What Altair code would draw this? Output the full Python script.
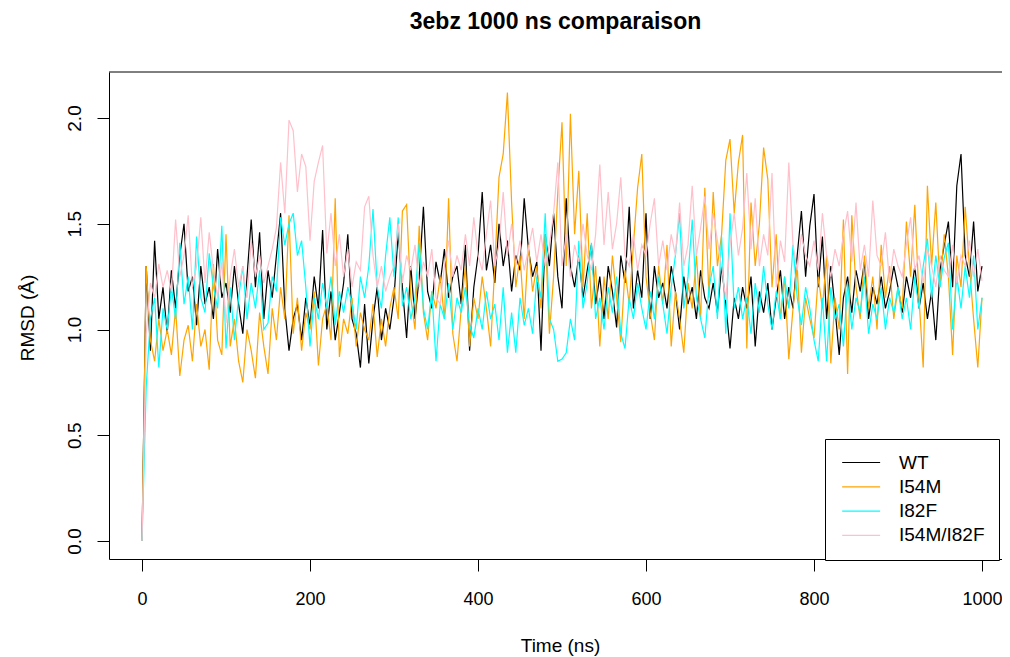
import altair as alt
import pandas as pd

# time grid (ns), one sample every 5 ns
times = list(range(0, 1001, 5))

wt = [
    0.00, 1.30, 0.90, 1.42, 1.05, 1.20, 0.98, 1.28, 1.10, 1.35, 1.50, 1.18, 1.25, 1.02, 1.30, 1.12, 1.20, 1.05, 1.38, 1.15,
    1.22, 1.08, 1.30, 1.12, 0.98, 1.25, 1.52, 1.20, 1.46, 1.05, 1.28, 1.15, 1.35, 1.55, 1.10, 0.90, 1.05, 1.12, 0.95, 1.15,
    1.02, 1.25, 1.10, 1.47, 1.00, 1.18, 0.95, 1.08, 1.22, 1.45, 1.05, 0.98, 0.82, 1.12, 0.84, 1.05, 1.20, 0.95, 1.10, 1.00,
    1.15, 1.46, 1.20, 0.96, 1.30, 1.05, 1.25, 1.58, 1.18, 1.10, 1.32, 1.22, 1.38, 1.15, 1.25, 1.30, 1.12, 1.40, 0.90, 1.20,
    1.35, 1.65, 1.28, 1.40, 1.22, 1.50, 1.30, 1.42, 1.18, 1.35, 1.28, 1.62, 1.38, 1.25, 1.32, 0.90, 1.45, 1.30, 1.55, 1.25,
    1.10, 1.62, 1.30, 1.20, 1.35, 1.15, 1.28, 1.40, 1.12, 1.25, 1.05, 1.30, 1.18, 1.01, 1.35, 1.22, 1.58, 1.10, 1.28, 1.15,
    1.55, 1.05, 1.30, 1.15, 1.22, 1.10, 1.30, 1.18, 1.00, 1.25, 1.12, 1.20, 1.05, 1.28, 1.15, 1.10, 1.22, 1.08, 1.30, 1.12,
    0.91, 1.15, 1.05, 1.20, 1.10, 1.25, 0.92, 1.18, 1.08, 1.22, 1.00, 1.15, 1.28, 1.05, 1.20, 1.10, 1.35, 1.56, 1.25, 1.49,
    1.64, 1.20, 1.44, 1.05, 1.30, 1.10, 0.88, 1.15, 1.25, 1.08, 1.28, 1.18, 1.32, 1.05, 1.20, 1.12, 1.25, 1.10, 1.18, 1.30,
    1.20, 1.08, 1.25, 1.15, 1.30, 1.10, 1.22, 1.05, 1.18, 0.95, 1.28, 1.40, 1.51, 1.20, 1.68, 1.83, 1.35, 1.25, 1.51, 1.18,
    1.30,
]

i54m = [
    0.00, 1.30, 0.95, 0.85, 1.05, 0.90, 1.00, 0.88, 1.10, 0.78, 0.95, 1.02, 0.85, 1.12, 0.92, 1.00, 0.81, 1.31, 0.95, 0.88,
    1.45, 0.92, 1.05, 0.85, 0.75, 1.00, 0.90, 0.77, 1.08, 0.92, 0.79, 1.10, 0.95, 1.20, 1.05, 1.54, 0.98, 1.15, 0.90, 1.08,
    1.00, 1.18, 0.83, 1.05, 1.12, 0.95, 1.62, 0.87, 1.05, 0.98, 1.15, 0.92, 1.08, 1.00, 0.95, 1.12, 0.87, 1.05, 0.92, 1.10,
    1.20, 1.05, 1.56, 1.59, 1.15, 1.00, 1.49, 1.08, 0.95, 1.18, 1.10, 1.25, 1.05, 1.62, 0.98, 0.85, 1.10, 1.30, 0.92, 1.15,
    1.05, 1.25, 1.10, 0.92, 1.30, 1.72, 1.83, 2.12, 1.60, 1.20, 1.35, 1.05, 1.40, 1.18, 1.30, 1.10, 1.45, 0.98, 1.25, 1.65,
    1.98, 1.30, 2.02, 1.45, 1.75, 1.20, 1.55, 1.10, 1.30, 0.92, 1.25, 1.05, 1.35, 1.15, 0.94, 1.28, 1.12, 1.40, 1.67, 1.83,
    1.25, 1.08, 0.95, 1.30, 1.12, 1.40, 0.92, 1.18, 1.05, 0.89, 1.22, 1.10, 1.35, 1.05, 1.67, 1.15, 1.65, 1.30, 1.45, 1.80,
    1.90, 1.55, 1.79, 1.92, 0.91, 1.60, 1.30, 1.50, 1.86, 1.71, 1.20, 1.45, 1.05, 1.25, 0.86, 1.10, 1.30, 0.89, 1.15, 1.05,
    0.96, 1.25, 1.10, 1.35, 0.84, 1.15, 1.00, 1.52, 0.79, 1.54, 1.20, 1.05, 1.35, 1.10, 1.25, 1.00, 1.40, 1.15, 1.30, 1.05,
    1.20, 1.10, 1.51, 1.25, 1.59, 1.15, 0.82, 1.68, 1.30, 1.60, 1.20, 1.45, 1.25, 0.88, 1.35, 1.20, 1.58, 1.30, 1.05, 0.82,
    1.15,
]

i82f = [
    0.00, 0.73, 1.05, 1.15, 0.82, 1.10, 1.00, 1.20, 1.05, 1.41, 1.12, 1.25, 1.00, 1.44, 1.15, 1.08, 1.36, 1.20, 1.10, 1.49,
    0.91, 1.20, 0.95, 1.15, 1.30, 1.05, 1.22, 1.10, 1.28, 1.00, 1.03, 1.25, 1.18, 1.53, 1.40, 1.50, 1.55, 1.35, 1.42, 1.20,
    0.92, 1.15, 1.05, 1.22, 1.10, 1.25, 1.02, 1.18, 1.08, 1.20, 1.12, 1.00, 1.25, 1.15, 1.30, 1.57, 1.20, 1.10, 1.35, 1.53,
    1.25, 1.53, 1.11, 1.20, 1.05, 1.15, 1.41, 1.10, 1.00, 1.18, 0.85, 1.12, 1.05, 1.22, 1.00, 1.15, 1.08, 1.20, 1.02, 0.96,
    1.10, 1.00, 1.18, 1.05, 1.12, 0.95, 1.20, 0.89, 1.08, 0.89, 1.15, 1.02, 1.10, 0.98, 1.25, 1.15, 1.55, 1.05, 1.00, 0.85,
    0.86, 0.89, 1.05, 0.95, 1.42, 1.10, 1.22, 1.41, 1.05, 1.15, 1.00, 1.20, 1.08, 1.25, 0.98, 0.91, 1.15, 1.05, 1.22, 1.10,
    1.00, 1.18, 1.05, 1.25, 1.12, 0.98, 1.20, 1.35, 1.55, 1.10, 1.25, 1.52, 1.15, 1.05, 0.96, 1.20, 1.30, 1.05, 1.44, 0.98,
    1.55, 1.10, 1.20, 1.05, 1.15, 0.98, 1.22, 1.08, 1.30, 1.12, 1.00, 1.18, 1.05, 1.25, 1.10, 1.40, 1.15, 1.02, 1.20, 1.10,
    0.95, 0.85, 1.15, 0.85, 1.20, 1.05, 1.12, 0.92, 1.22, 1.00, 1.15, 1.08, 1.25, 0.98, 1.12, 1.05, 1.20, 1.00, 1.15, 1.08,
    1.20, 1.05, 1.15, 1.00, 1.25, 1.10, 1.30, 1.43, 1.15, 1.35, 1.20, 1.34, 1.41, 1.00, 1.25, 1.10, 1.30, 1.15, 1.35, 1.00,
    1.15,
]

i54m_i82f = [
    0.00, 0.98, 1.22, 1.15, 1.31, 1.20, 1.28, 1.18, 1.52, 1.25, 1.35, 1.54, 1.20, 1.30, 1.53, 1.22, 1.46, 1.28, 1.15, 1.32,
    1.03, 1.25, 1.38, 1.20, 1.30, 1.15, 1.42, 1.25, 1.35, 1.22, 1.30, 1.38, 1.48, 1.79, 1.55, 1.99, 1.94, 1.65, 1.83, 1.77,
    1.42, 1.70, 1.79, 1.87, 1.36, 1.55, 1.30, 1.45, 1.25, 1.38, 1.20, 1.32, 1.28, 1.58, 1.63, 1.35, 1.20, 1.30, 1.18, 1.25,
    1.30, 1.50, 1.22, 1.35, 1.28, 1.40, 1.20, 1.32, 1.25, 1.38, 1.15, 1.12, 1.30, 1.42, 1.25, 1.35, 1.28, 1.45, 1.30, 1.53,
    1.35, 1.28, 1.45, 1.61, 1.30, 1.40, 1.65, 1.35, 1.50, 1.30, 1.42, 1.28, 1.38, 1.48, 1.32, 1.45, 1.30, 1.40, 1.55, 1.79,
    1.30, 1.45, 1.25, 1.40, 1.32, 1.50, 1.35, 1.28, 1.45, 1.78, 1.40, 1.65, 1.38, 1.50, 1.72, 1.35, 1.30, 1.45, 1.28, 1.40,
    1.35, 1.50, 1.62, 1.30, 1.42, 1.28, 1.45, 1.35, 1.60, 1.30, 1.40, 1.68, 1.35, 1.48, 1.63, 1.38, 1.55, 1.42, 1.30, 1.14,
    1.40, 1.55, 1.35, 1.48, 1.74, 1.38, 1.62, 1.30, 1.45, 1.35, 1.74, 1.20, 1.42, 1.32, 1.79, 1.40, 1.28, 1.45, 1.35, 1.30,
    1.42, 1.28, 1.55, 1.35, 1.25, 1.38, 1.30, 1.45, 1.56, 1.32, 1.60, 1.28, 1.40, 1.25, 1.61, 1.35, 1.30, 1.46, 1.22, 1.38,
    1.30, 1.25, 1.40, 1.53, 1.28, 1.35, 1.22, 1.38, 1.30, 1.20, 1.35, 1.28, 1.25, 1.40, 1.22, 1.35, 1.30, 1.42, 1.25, 1.38,
    1.23,
]

series_names = ["WT", "I54M", "I82F", "I54M/I82F"]
series_colors = ["#000000", "#FFA500", "#00FFFF", "#FFC0CB"]
x_ticks = [0, 200, 400, 600, 800, 1000]
y_ticks = [0.0, 0.5, 1.0, 1.5, 2.0]

rows = []
for order, (name, vals) in enumerate(zip(series_names, [wt, i54m, i82f, i54m_i82f])):
    for t, v in zip(times, vals):
        rows.append({"Time": t, "RMSD": v, "Series": name, "ord": order})
df = pd.DataFrame(rows)

FONT = "Liberation Sans"
NBSP_PAD = "\u00a0" * 14

lines = alt.Chart(df).mark_line(strokeWidth=1.2, clip=True).encode(
    x=alt.X(
        "Time:Q",
        scale=alt.Scale(domain=[-39.3, 1023.8], nice=False, zero=False),
        axis=alt.Axis(
            values=x_ticks, format="d", title="Time (ns)", grid=False, tickSize=12,
            labelFontSize=18, labelPadding=33, labelBaseline="alphabetic",
            labelFlush=False, labelOverlap=False, titleBaseline="alphabetic",
            titleY=92, titleX=451, titleAnchor="middle",
        ),
    ),
    y=alt.Y(
        "RMSD:Q",
        scale=alt.Scale(domain=[-0.0851, 2.2175], nice=False, zero=False),
        axis=alt.Axis(
            values=y_ticks, format=".1f", title="RMSD (Å)", grid=False,
            tickSize=12, labelPadding=17, labelAngle=270, labelAlign="center",
            labelBaseline="alphabetic", labelFlush=False, labelOverlap=False,
            titleAngle=270, titleBaseline="alphabetic", titleAlign="center",
            titleX=-76, titleY=245.5,
        ),
    ),
    color=alt.Color(
        "Series:N",
        scale=alt.Scale(domain=series_names, range=series_colors),
        sort=series_names,
        legend=alt.Legend(
            title=None, orient="none", legendX=716, legendY=367,
            symbolType="M-1,0L5,0", symbolSize=160, symbolStrokeWidth=1.2,
            labelFont=FONT, labelFontSize=19, labelOffset=41, labelLimit=600,
            labelExpr="datum.label + '" + NBSP_PAD + "'",
            padding=14, rowPadding=4.3, fillColor="white", strokeColor="black",
        ),
    ),
    detail="ord:O",
)

top_border = alt.Chart(pd.DataFrame({"k": [0]})).mark_rule(
    color="black", strokeWidth=1
).encode(y=alt.value(0))

chart = alt.layer(lines, top_border).properties(
    width=893,
    height=487,
    autosize=alt.AutoSizeParams(type="none"),
    padding={"left": 101, "top": 64, "right": 0, "bottom": 98},
    title=alt.TitleParams(
        text="3ebz 1000 ns comparaison", font=FONT, fontSize=23,
        fontWeight="bold", anchor="middle", baseline="alphabetic", offset=20,
        color="black",
    ),
).configure_view(stroke=None).configure_axis(
    labelFont=FONT, labelFontSize=19, labelColor="black",
    titleFont=FONT, titleFontSize=19, titleColor="black", titleFontWeight="normal",
    domainColor="black", tickColor="black", domainWidth=1, tickWidth=1,
)

chart.save("out.html", embed_options={"renderer": "svg", "actions": False})
